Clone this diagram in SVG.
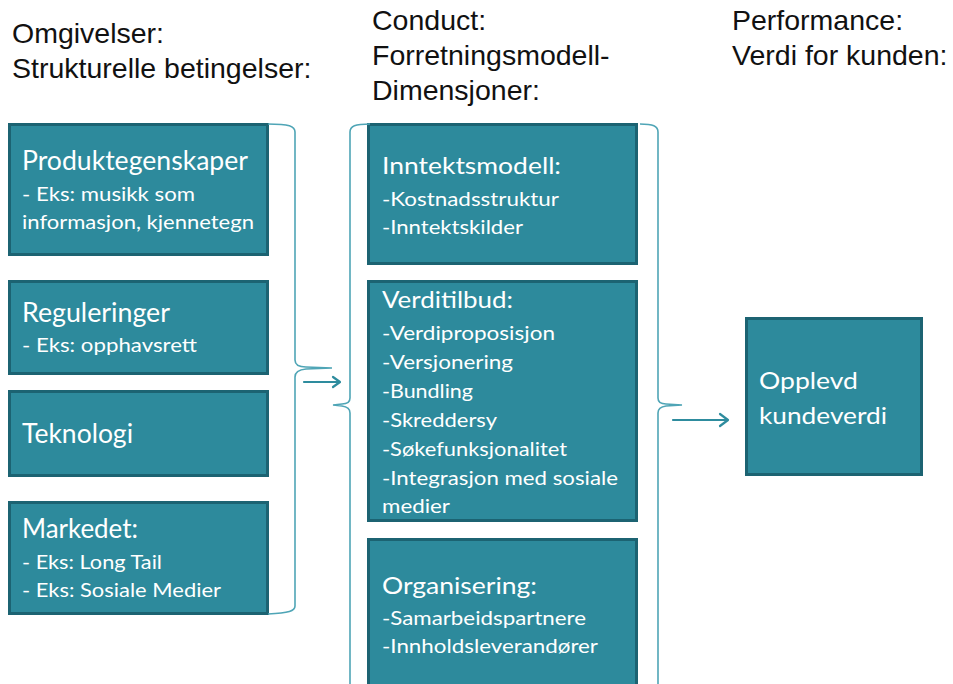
<svg xmlns="http://www.w3.org/2000/svg" width="953" height="684" viewBox="0 0 953 684">
<style>
.hdr{font-family:"Liberation Sans",Arial,sans-serif;font-size:28.5px;fill:#111}
.box{fill:#2D8A9C;stroke:#1C6372;stroke-width:3}
.t{font-family:Lato,"Open Sans",sans-serif;fill:#fff}
.ti{font-size:26px}
.tm{font-size:24px}
.s{font-size:20px}
.brace{fill:none;stroke:#4FA5B6;stroke-width:1.6}
.arr{fill:none;stroke:#2E8C9E;stroke-width:2.2;stroke-linecap:round;stroke-linejoin:round}
</style>
<rect width="953" height="684" fill="#fff"/>
<g id="headers">
<text class="hdr" x="12" y="43">Omgivelser:</text>
<text class="hdr" x="12" y="78">Strukturelle betingelser:</text>
<text class="hdr" x="372" y="30">Conduct:</text>
<text class="hdr" x="372" y="65">Forretningsmodell-</text>
<text class="hdr" x="372" y="100">Dimensjoner:</text>
<text class="hdr" x="732" y="30">Performance:</text>
<text class="hdr" x="732" y="65">Verdi for kunden:</text>
</g>
<g id="produktegenskaper">
<rect class="box" x="9.5" y="124.5" width="258" height="130"/>
<text class="t ti" x="22" y="170" textLength="226" lengthAdjust="spacingAndGlyphs">Produktegenskaper</text>
<text class="t s" x="22" y="201" textLength="173" lengthAdjust="spacingAndGlyphs">- Eks: musikk som</text>
<text class="t s" x="22" y="229" textLength="232" lengthAdjust="spacingAndGlyphs">informasjon, kjennetegn</text>
</g>
<g id="reguleringer">
<rect class="box" x="9.5" y="281.5" width="258" height="92"/>
<text class="t ti" x="22" y="322" textLength="148" lengthAdjust="spacingAndGlyphs">Reguleringer</text>
<text class="t s" x="22" y="352" textLength="175" lengthAdjust="spacingAndGlyphs">- Eks: opphavsrett</text>
</g>
<g id="teknologi">
<rect class="box" x="9.5" y="391.5" width="258" height="84"/>
<text class="t ti" x="22" y="443" textLength="111" lengthAdjust="spacingAndGlyphs">Teknologi</text>
</g>
<g id="markedet">
<rect class="box" x="9.5" y="502.5" width="258" height="111"/>
<text class="t ti" x="22" y="538" textLength="116" lengthAdjust="spacingAndGlyphs">Markedet:</text>
<text class="t s" x="22" y="569" textLength="140" lengthAdjust="spacingAndGlyphs">- Eks: Long Tail</text>
<text class="t s" x="22" y="597" textLength="199" lengthAdjust="spacingAndGlyphs">- Eks: Sosiale Medier</text>
</g>
<g id="inntektsmodell">
<rect class="box" x="368.5" y="124.5" width="268" height="139"/>
<text class="t tm" x="382" y="174" textLength="179" lengthAdjust="spacingAndGlyphs">Inntektsmodell:</text>
<text class="t s" x="382" y="206" textLength="177" lengthAdjust="spacingAndGlyphs">-Kostnadsstruktur</text>
<text class="t s" x="382" y="234" textLength="141" lengthAdjust="spacingAndGlyphs">-Inntektskilder</text>
</g>
<g id="verditilbud">
<rect class="box" x="368.5" y="281.5" width="268" height="239"/>
<text class="t tm" x="382" y="308" textLength="131" lengthAdjust="spacingAndGlyphs">Verditilbud:</text>
<text class="t s" x="382" y="340" textLength="173" lengthAdjust="spacingAndGlyphs">-Verdiproposisjon</text>
<text class="t s" x="382" y="369" textLength="131" lengthAdjust="spacingAndGlyphs">-Versjonering</text>
<text class="t s" x="382" y="398" textLength="91" lengthAdjust="spacingAndGlyphs">-Bundling</text>
<text class="t s" x="382" y="427" textLength="115" lengthAdjust="spacingAndGlyphs">-Skreddersy</text>
<text class="t s" x="382" y="456" textLength="185" lengthAdjust="spacingAndGlyphs">-Søkefunksjonalitet</text>
<text class="t s" x="382" y="485" textLength="236" lengthAdjust="spacingAndGlyphs">-Integrasjon med sosiale</text>
<text class="t s" x="382" y="513" textLength="68" lengthAdjust="spacingAndGlyphs">medier</text>
</g>
<g id="organisering">
<rect class="box" x="368.5" y="539.5" width="268" height="170"/>
<text class="t tm" x="382" y="594" textLength="155" lengthAdjust="spacingAndGlyphs">Organisering:</text>
<text class="t s" x="382" y="625" textLength="204" lengthAdjust="spacingAndGlyphs">-Samarbeidspartnere</text>
<text class="t s" x="382" y="653" textLength="216" lengthAdjust="spacingAndGlyphs">-Innholdsleverandører</text>
</g>
<g id="opplevd">
<rect class="box" x="746.5" y="318.5" width="175" height="156"/>
<text class="t tm" x="759" y="389" textLength="99" lengthAdjust="spacingAndGlyphs">Opplevd</text>
<text class="t tm" x="759" y="424" textLength="128" lengthAdjust="spacingAndGlyphs">kundeverdi</text>
</g>
<g id="connectors">
<path class="brace" d="M268,124 C289,124 295,126 295,132 L295,360 Q295,367 306,367 L332,368 L306,369 Q295,370 295,377 L295,606 C295,611 289,613 268,614"/>
<path class="brace" d="M370,124 C355,124 350,126 350,132 L350,398 Q350,404 342,404 L333,405 L342,406 Q350,407 350,413 L350,690"/>
<path class="brace" d="M640,124 C653,124 658,126 658,132 L658,398 Q658,404 666,404 L682,405 L666,406 Q658,407 658,413 L658,690"/>
<path class="arr" d="M304,382 H340 M333,377 L340,382 L333,387"/>
<path class="arr" d="M673,420 H728 M720,414 L728,420 L720,426"/>
</g>
</svg>
